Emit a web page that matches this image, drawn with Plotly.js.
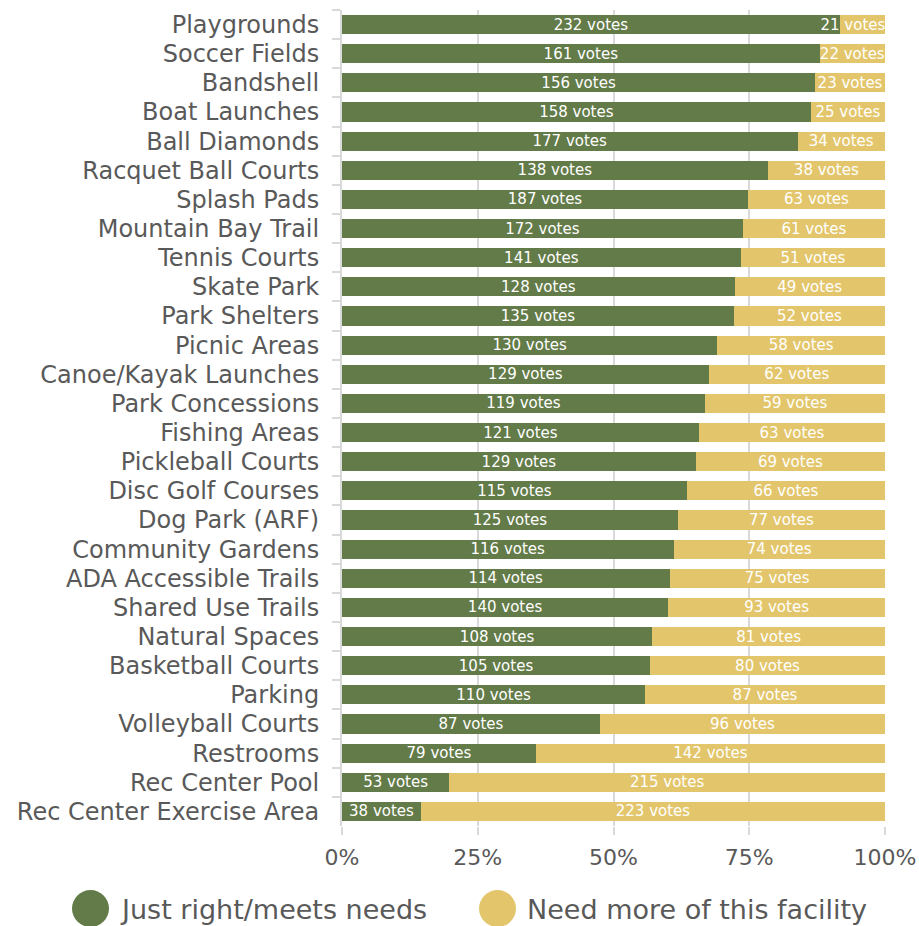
<!DOCTYPE html>
<html>
<head>
<meta charset="utf-8">
<script src="https://cdn.plot.ly/plotly-3.0.1.min.js"></script>
<style>html,body{margin:0;padding:0;background:#fff;}#chart{width:919px;height:926px;}</style>
</head>
<body>
<div id="chart"></div>
<script>
const categories = ["Playgrounds","Soccer Fields","Bandshell","Boat Launches","Ball Diamonds","Racquet Ball Courts","Splash Pads","Mountain Bay Trail","Tennis Courts","Skate Park","Park Shelters","Picnic Areas","Canoe/Kayak Launches","Park Concessions","Fishing Areas","Pickleball Courts","Disc Golf Courses","Dog Park (ARF)","Community Gardens","ADA Accessible Trails","Shared Use Trails","Natural Spaces","Basketball Courts","Parking","Volleyball Courts","Restrooms","Rec Center Pool","Rec Center Exercise Area"];
const justRight = [232,161,156,158,177,138,187,172,141,128,135,130,129,119,121,129,115,125,116,114,140,108,105,110,87,79,53,38];
const needMore = [21,22,23,25,34,38,63,61,51,49,52,58,62,59,63,69,66,77,74,75,93,81,80,87,96,142,215,223];
const seriesNames = ["Just right/meets needs","Need more of this facility"];
const xTicks = [0,25,50,75,100];

const GREEN = "#637B48", YELLOW = "#E3C66B";
const FONT = "DejaVu Sans";
const TXT = "#595959";

// label for the right-hand segment: when the segment is very narrow, pad the label
// on the right so it stays within the plot (as in the original chart)
const needLabels = needMore.map((v, i) => {
  const share = v / (v + justRight[i]);
  return share < 0.1 ? v + " votes\u00a0\u00a0\u00a0\u00a0" : v + " votes";
});

const traces = [
  {type:"bar", orientation:"h", y:categories, x:justRight, name:seriesNames[0],
   marker:{color:GREEN}, text:justRight.map(v=>v+" votes"), textposition:"inside",
   insidetextanchor:"middle", textfont:{color:"#ffffff", size:15, family:FONT},
   hoverinfo:"none", showlegend:false},
  {type:"bar", orientation:"h", y:categories, x:needMore, name:seriesNames[1],
   marker:{color:YELLOW}, text:needLabels, textposition:"inside",
   insidetextanchor:"middle", textfont:{color:"#ffffff", size:15, family:FONT},
   hoverinfo:"none", showlegend:false}
];

// legend built from shapes + annotations (paper coords)
const L = 342, R = 885, T = 10, B = 826;
const px = x => (x - L) / (R - L);
const py = y => (B - y) / (B - T);
const shapes = [
  {type:"circle", xref:"paper", yref:"paper", x0:px(72), x1:px(109), y0:py(890), y1:py(927), fillcolor:GREEN, line:{width:0}},
  {type:"circle", xref:"paper", yref:"paper", x0:px(479), x1:px(516), y0:py(890), y1:py(927), fillcolor:YELLOW, line:{width:0}}
];
const annotations = [
  {xref:"paper", yref:"paper", x:px(118), y:py(909), xanchor:"left", yanchor:"middle", showarrow:false,
   text:seriesNames[0], font:{family:FONT, size:27, color:TXT}},
  {xref:"paper", yref:"paper", x:px(525), y:py(909), xanchor:"left", yanchor:"middle", showarrow:false,
   text:seriesNames[1], font:{family:FONT, size:27, color:TXT}}
];

const layout = {
  width:919, height:926,
  margin:{l:L, r:919-R, t:T, b:926-B},
  barmode:"stack", barnorm:"percent", bargap:0.34,
  paper_bgcolor:"#fff", plot_bgcolor:"#fff",
  showlegend:false,
  uniformtext:{mode:"show", minsize:15},
  xaxis:{range:[0,100], tickvals:xTicks, ticktext:xTicks.map(v=>v+"%"),
    showgrid:true, gridcolor:"#d9d9d9", gridwidth:2, zeroline:false, showline:false,
    ticks:"outside", ticklen:8, tickcolor:"#d9d9d9", tickwidth:2, ticklabelstandoff:4,
    tickfont:{family:FONT, size:22, color:TXT}, fixedrange:true},
  yaxis:{autorange:"reversed", showline:true, linecolor:"#d9d9d9", linewidth:2,
    ticks:"outside", tickson:"boundaries", ticklen:8, tickcolor:"#d9d9d9", tickwidth:2,
    ticklabelstandoff:16,
    tickfont:{family:FONT, size:24, color:TXT}, showgrid:false, fixedrange:true},
  shapes:shapes, annotations:annotations,
  font:{family:FONT}
};

Plotly.newPlot("chart", traces, layout, {displayModeBar:false, staticPlot:true});
</script>
</body>
</html>
